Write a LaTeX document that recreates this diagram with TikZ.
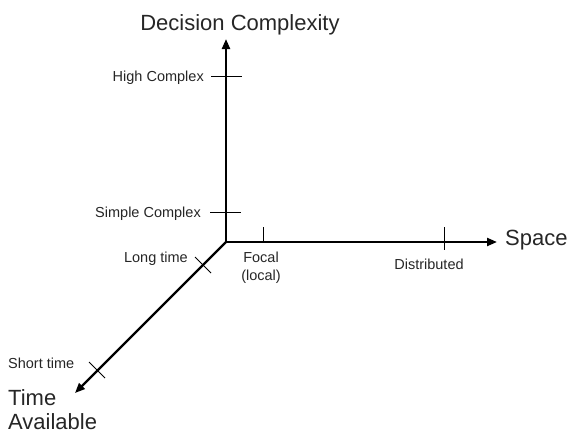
\documentclass[tikz,border=0pt]{standalone}
\usepackage{fontspec}
\setmainfont{Liberation Sans}
\usetikzlibrary{arrows.meta}
\begin{document}
\begin{tikzpicture}[x=1pt,y=-1pt,
  axis/.style={line width=2.2pt,-{Triangle[length=10pt,width=8pt]}},
  tickmark/.style={line width=0.9pt},
  small/.style={inner sep=0pt,font=\fontsize{14.5}{17}\selectfont,text=black!85},
  big/.style={inner sep=0pt,font=\fontsize{22}{25}\selectfont,text=black!85}]
\useasboundingbox (0,0) rectangle (571,434);
% origin and axis ends
\coordinate (O) at (226,242);
\coordinate (up) at (226,39);
\coordinate (right) at (497,242);
\coordinate (down) at (75,393);
\draw[axis] (O) -- (up);
\draw[axis] (O) -- (right);
\draw[axis] (O) -- (down);
% tick marks
\coordinate (hc1) at (211,76);  \coordinate (hc2) at (242,76);
\coordinate (sc1) at (210,212); \coordinate (sc2) at (241,212);
\coordinate (fo1) at (263,227); \coordinate (fo2) at (263,242);
\coordinate (di1) at (444,227); \coordinate (di2) at (444,250);
\coordinate (lt1) at (195,257); \coordinate (lt2) at (211,273);
\coordinate (st1) at (89,362);  \coordinate (st2) at (105,378);
\draw[tickmark] (hc1) -- (hc2);
\draw[tickmark] (sc1) -- (sc2);
\draw[tickmark] (fo1) -- (fo2);
\draw[tickmark] (di1) -- (di2);
\draw[tickmark] (lt1) -- (lt2);
\draw[tickmark] (st1) -- (st2);
% labels
\node[big,anchor=base] (title) at (240,30) {Decision Complexity};
\node[big,anchor=base west] (space) at (505,245) {Space};
\node[big,anchor=base west] (time) at (8,405) {Time};
\node[big,anchor=base west] (avail) at (8,429) {Available};
\node[small,anchor=base east] (high) at (204,81) {High Complex};
\node[small,anchor=base east] (simple) at (201,217) {Simple Complex};
\node[small,anchor=base east] (long) at (188,262) {Long time};
\node[small,anchor=base] (focal) at (261,262) {Focal};
\node[small,anchor=base] (local) at (261,280) {(local)};
\node[small,anchor=base] (dist) at (429,269) {Distributed};
\node[small,anchor=base west] (short) at (8,368) {Short time};
\end{tikzpicture}
\end{document}
